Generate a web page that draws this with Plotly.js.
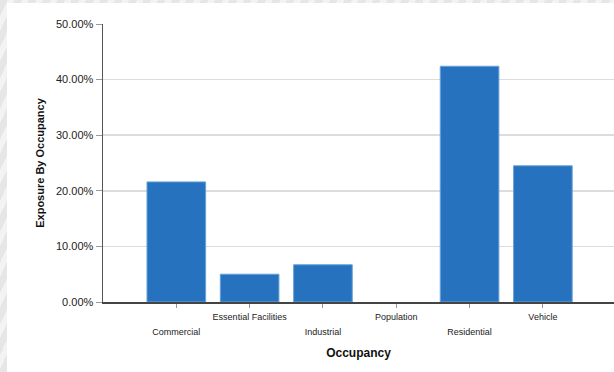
<!DOCTYPE html>
<html>
<head>
<meta charset="utf-8">
<script src="https://cdn.plot.ly/plotly-3.0.1.min.js"></script>
<style>
  html, body { margin:0; padding:0; width:614px; height:372px; overflow:hidden; }
  body { background: repeating-linear-gradient(115deg, #e6e6e6 0px, #e6e6e6 7px, #f3f3f3 7px, #f3f3f3 13px); position:relative; }
  #panel { position:absolute; left:7px; top:3px; width:607px; height:369px; background:#ffffff; }
  #chart { position:absolute; left:0; top:0; width:614px; height:372px; }
</style>
</head>
<body>
<div id="panel"></div>
<div id="chart"></div>
<script>
const categories = ["Commercial", "Essential Facilities", "Industrial", "Population", "Residential", "Vehicle"];
const exposurePct = [21.6, 5.0, 6.7, 0, 42.4, 24.5];
const yTicks = [0, 10, 20, 30, 40, 50];

const tickText = categories.map((c, i) => {
  const t = "<span style='font-size:9px'>" + c + "</span>";
  return i % 2 === 0 ? "<br>" + t : t;
});
const yTickText = yTicks.map(v => v.toFixed(2) + "%");
const outlineColors = exposurePct.map(v => (v > 0 ? "#6aa3da" : "rgba(0,0,0,0)"));

const trace = {
  type: "bar",
  x: categories,
  y: exposurePct,
  width: 0.8,
  marker: { color: "#2672be", line: { color: outlineColors, width: 1 } },
  hoverinfo: "x+y"
};

const layout = {
  width: 614, height: 372,
  margin: { l: 103, r: 0, t: 24, b: 70 },
  paper_bgcolor: "rgba(0,0,0,0)",
  plot_bgcolor: "#ffffff",
  font: { family: "Liberation Sans, Arial, sans-serif", color: "#222" },
  showlegend: false,
  xaxis: {
    type: "category",
    range: [-1, 5.97],
    tickmode: "array",
    tickvals: categories,
    ticktext: tickText,
    tickangle: 0,
    tickfont: { size: 11.5, color: "#222" },
    ticklabelstandoff: -2,
    ticks: "outside", ticklen: 4, tickcolor: "#999", tickwidth: 1,
    showline: true, linecolor: "#444", linewidth: 2,
    showgrid: false, zeroline: false,
    title: { text: "<b>Occupancy</b>", font: { size: 12, color: "#111" }, standoff: 13 }
  },
  yaxis: {
    range: [0, 50],
    tickmode: "array",
    tickvals: yTicks,
    ticktext: yTickText,
    tickfont: { size: 11, color: "#222" },
    ticks: "outside", ticklen: 6, tickcolor: "#999", tickwidth: 1,
    showline: true, linecolor: "#555", linewidth: 1.5,
    showgrid: true, gridcolor: "#dcdcdc", gridwidth: 1.5,
    zeroline: false,
    title: { text: "<b>Exposure By Occupancy</b>", font: { size: 11, color: "#111" }, standoff: 9 }
  }
};

Plotly.newPlot("chart", [trace], layout, { displayModeBar: false, staticPlot: true });
</script>
</body>
</html>
